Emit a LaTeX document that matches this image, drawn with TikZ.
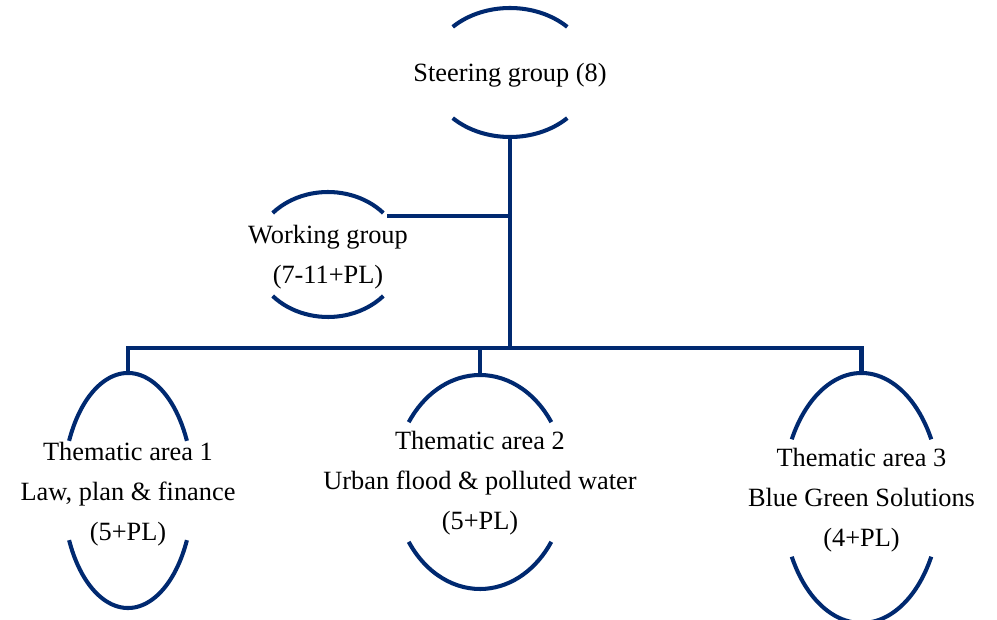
\documentclass[tikz,border=0pt]{standalone}
\usepackage{fontspec}
\setmainfont{Liberation Serif}
\definecolor{navy}{RGB}{0,41,112}
\begin{document}
\begin{tikzpicture}[x=0.02cm,y=0.02cm,
  arcline/.style={draw=navy,line width=2.3pt},
  conn/.style={draw=navy,line width=2.3pt},
  lbl/.style={align=center,inner sep=0pt,font=\fontsize{15pt}{22.6pt}\selectfont,text=black}]
\useasboundingbox (0,0) rectangle (997,619);
% Steering group: centre (510,546.5), a=81, b=64.5
\node[lbl] (sg) at (510,544) {Steering group (8)};
\draw[arcline] (510,546.5) ++(45:81 and 64.5) arc[start angle=45,end angle=135,x radius=81,y radius=64.5];
\draw[arcline] (510,546.5) ++(225:81 and 64.5) arc[start angle=225,end angle=315,x radius=81,y radius=64.5];
\coordinate (sgB) at (510,482);
% Working group: centre (328,364.5), a=74, b=62.5
\node[lbl] (wg) at (328,362) {Working group\\(7-11+PL)};
\draw[arcline] (328,364.5) ++(41.6:74 and 62.5) arc[start angle=41.6,end angle=138.4,x radius=74,y radius=62.5];
\draw[arcline] (328,364.5) ++(221.6:74 and 62.5) arc[start angle=221.6,end angle=318.4,x radius=74,y radius=62.5];
\coordinate (wgE) at (387,403);
% Thematic area 1: centre (128,128.5), a=65, b=117.5
\node[lbl] (t1) at (128,125) {Thematic area 1\\Law, plan \& finance\\(5+PL)};
\draw[arcline] (128,128.5) ++(25:65 and 117.5) arc[start angle=25,end angle=155,x radius=65,y radius=117.5];
\draw[arcline] (128,128.5) ++(205:65 and 117.5) arc[start angle=205,end angle=335,x radius=65,y radius=117.5];
\coordinate (t1T) at (128,246);
% Thematic area 2: centre (480,137), a=86, b=107
\node[lbl] (t2) at (480,136) {Thematic area 2\\Urban flood \& polluted water\\(5+PL)};
\draw[arcline] (480,137) ++(34:86 and 107) arc[start angle=34,end angle=146,x radius=86,y radius=107];
\draw[arcline] (480,137) ++(214:86 and 107) arc[start angle=214,end angle=326,x radius=86,y radius=107];
\coordinate (t2T) at (480,244);
% Thematic area 3: centre (861.5,121), a=79, b=125
\node[lbl] (t3) at (861.5,119) {Thematic area 3\\Blue Green Solutions\\(4+PL)};
\draw[arcline] (861.5,121) ++(28:79 and 125) arc[start angle=28,end angle=152,x radius=79,y radius=125];
\draw[arcline] (861.5,121) ++(208:79 and 125) arc[start angle=208,end angle=332,x radius=79,y radius=125];
\coordinate (t3T) at (861.5,246);
% connectors
\coordinate (bus) at (510,271);
\draw[conn] (sgB) -- (bus);
\draw[conn] (wgE) -- (wgE -| sgB);
\draw[conn] (t1T) |- (bus) -| (t3T);
\draw[conn] (t2T) -- (t2T |- bus);
\end{tikzpicture}
\end{document}
